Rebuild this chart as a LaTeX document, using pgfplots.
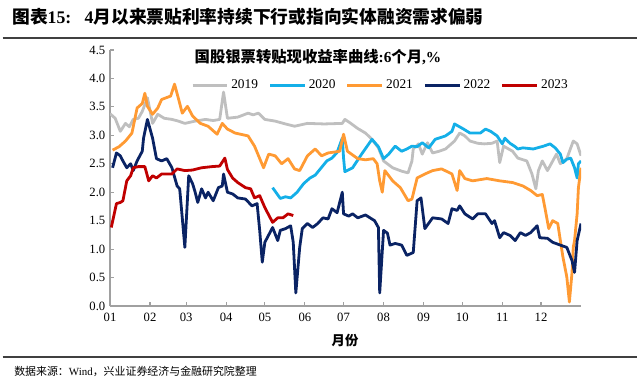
\documentclass[border=0pt]{standalone}
\usepackage{fontspec}
\setmainfont{Liberation Serif}
\newfontfamily\cjk{Noto Sans CJK SC}
\usepackage{pgfplots}
\pgfplotsset{compat=1.18}
\definecolor{c19}{HTML}{BFBFBF}
\definecolor{c20}{HTML}{14AFE8}
\definecolor{c21}{HTML}{FF9A33}
\definecolor{c22}{HTML}{0A2364}
\definecolor{c23}{HTML}{C00000}
\definecolor{axgray}{HTML}{A0A0A0}
\begin{document}
\begin{tikzpicture}
\useasboundingbox (0,0) rectangle (480pt,287.25pt);
\begin{axis}[
  at={(82.5pt,57.75pt)}, anchor=south west,
  scale only axis, width=353.25pt, height=192pt,
  xmin=0, xmax=365, ymin=0, ymax=4.5,
  axis x line*=bottom, axis y line*=left,
  axis line style={axgray, line width=0.8pt},
  every tick/.style={axgray, line width=0.8pt},
  tick align=inside, major tick length=3pt,
  xtick={0,31,59,90,120,151,181,212,243,273,304,334},
  xticklabels={01,02,03,04,05,06,07,08,09,10,11,12},
  ytick={0,0.5,1,1.5,2,2.5,3,3.5,4,4.5},
  yticklabel style={/pgf/number format/.cd, fixed, fixed zerofill, precision=1},
  /pgf/number format/assume math mode=true,
  tick label style={font=\fontsize{9.5pt}{11pt}\selectfont},
  xticklabel style={yshift=-2pt},
  legend style={at={(0.575,0.862)}, anchor=center, draw=none, fill=none,
    legend columns=5, font=\fontsize{10pt}{12pt}\selectfont,
    /tikz/every even column/.append style={column sep=6pt},
    inner sep=0pt, outer sep=0pt},
  legend image code/.code={\draw[#1] (0pt,0pt) -- (26pt,0pt);},
  every axis plot/.append style={line width=2.1pt, line join=round},
]
\addplot[c19] coordinates {(0,3.38) (4,3.3) (8,3.07) (12,3.21) (15,3.15) (18,3.28) (22,3.3) (25,3.42) (29,3.66) (33,3.21) (37,3.37) (42,3.3) (48,3.28) (53,3.25) (58,3.21) (66,3.25) (74,3.28) (80,3.26) (85,3.28) (88,3.76) (91,3.3) (99,3.32) (107,3.39) (111,3.36) (115,3.39) (120,3.28) (128,3.25) (136,3.2) (143,3.16) (153,3.21) (166,3.2) (180,3.21) (182,3.28) (186,3.22) (192,3.12) (198,3.04) (203,2.93) (208,2.78) (212,2.55) (219,2.43) (226,2.37) (231,2.34) (234,2.55) (235,2.76) (239,2.85) (242,2.67) (246,2.87) (250,2.69) (255,2.72) (260,2.76) (267,2.9) (271,3.04) (275,2.99) (279,2.9) (285,2.86) (290,2.85) (296,2.86) (300,2.9) (302,2.52) (305,2.81) (312,2.72) (316,2.6) (323,2.55) (327,2.32) (330,2.06) (332,2.38) (335,2.55) (339,2.38) (346,2.67) (349,2.5) (354,2.59) (359,2.9) (362,2.85) (365,2.64)};
\addlegendentry{2019}
\addplot[c20] coordinates {(126,2.08) (132,1.89) (136,1.92) (140,1.9) (145,2.0) (150,2.15) (155,2.25) (159,2.3) (163,2.41) (168,2.55) (172,2.6) (176,2.7) (180,2.95) (181,2.6) (182,2.36) (188,2.43) (195,2.67) (203,2.93) (208,2.8) (212,2.59) (216,2.67) (221,2.81) (226,2.72) (230,2.76) (234,2.81) (238,2.8) (242,2.87) (247,2.78) (252,2.93) (260,2.99) (265,3.07) (267,3.2) (274,3.11) (279,3.04) (287,3.04) (291,3.11) (295,3.07) (300,2.99) (304,2.85) (306,2.95) (310,2.86) (314,2.8) (316,2.76) (320,2.78) (328,2.76) (336,2.81) (341,2.85) (345,2.78) (349,2.67) (351,2.52) (354,2.58) (357,2.6) (360,2.43) (362,2.25) (363,2.5) (365,2.55)};
\addlegendentry{2020}
\addplot[c21] coordinates {(2,2.74) (7,2.8) (12,2.9) (17,3.04) (21,3.48) (25,3.56) (27,3.74) (29,3.51) (33,3.37) (37,3.48) (40,3.63) (47,3.69) (50,3.9) (53,3.65) (56,3.39) (60,3.51) (64,3.34) (70,3.21) (76,3.16) (83,3.02) (87,3.21) (91,3.11) (97,3.04) (107,2.99) (112,2.81) (119,2.43) (123,2.67) (128,2.64) (133,2.5) (138,2.59) (143,2.41) (147,2.38) (153,2.64) (159,2.76) (164,2.64) (169,2.69) (178,2.72) (181,3.02) (184,2.72) (192,2.59) (198,2.57) (204,2.59) (207,2.5) (209,2.2) (211,2.0) (213,2.38) (219,2.2) (225,2.08) (231,1.85) (234,1.88) (238,2.25) (244,2.32) (250,2.38) (257,2.41) (265,2.32) (269,2.03) (271,2.38) (275,2.24) (281,2.2) (292,2.24) (302,2.2) (312,2.17) (320,2.11) (326,2.03) (331,1.94) (335,1.96) (337,1.73) (340,1.36) (343,1.5) (347,1.45) (349,1.15) (351,0.86) (354,0.51) (356,0.07) (358,0.58) (359,1.03) (360,1.15) (362,1.62) (363,2.08) (365,2.43)};
\addlegendentry{2021}
\addplot[c22] coordinates {(2,2.43) (5,2.69) (8,2.64) (10,2.55) (13,2.43) (16,2.5) (18,2.38) (21,2.55) (25,2.72) (26,2.95) (29,3.28) (33,2.95) (36,2.59) (40,2.55) (44,2.59) (48,2.43) (52,2.11) (54,2.06) (56,1.55) (58,1.03) (61,2.29) (64,2.15) (66,2.0) (68,1.82) (71,2.06) (74,1.9) (76,2.0) (80,1.85) (84,2.08) (87,2.11) (88,2.32) (91,2.0) (95,1.97) (99,1.9) (105,1.88) (110,1.76) (114,1.8) (116,1.33) (118,0.77) (120,1.12) (126,1.38) (130,1.15) (132,1.33) (136,1.36) (140,1.41) (142,1.12) (144,0.23) (147,1.03) (149,1.36) (153,1.45) (157,1.38) (161,1.45) (165,1.55) (169,1.53) (172,1.71) (176,1.64) (180,2.0) (181,1.62) (185,1.58) (188,1.62) (192,1.55) (198,1.6) (205,1.5) (208,1.38) (209,0.23) (212,1.33) (215,1.28) (217,1.07) (221,1.1) (226,1.07) (230,0.89) (235,0.94) (238,1.85) (241,1.9) (244,1.36) (250,1.55) (257,1.53) (262,1.45) (265,1.71) (269,1.68) (271,1.76) (275,1.62) (281,1.53) (285,1.62) (291,1.62) (296,1.45) (298,1.5) (302,1.2) (305,1.29) (310,1.24) (314,1.15) (318,1.29) (322,1.24) (326,1.29) (331,1.41) (333,1.2) (339,1.19) (343,1.12) (349,1.07) (354,1.03) (358,0.8) (360,0.59) (362,1.15) (365,1.45)};
\addlegendentry{2022}
\addplot[c23] coordinates {(1,1.38) (5,1.8) (8,1.82) (10,1.85) (13,2.2) (16,2.29) (18,2.43) (22,2.45) (27,2.45) (30,2.2) (33,2.29) (36,2.25) (40,2.32) (48,2.32) (52,2.41) (58,2.38) (64,2.39) (71,2.43) (79,2.45) (85,2.46) (89,2.6) (91,2.4) (95,2.25) (99,2.17) (105,2.08) (109,2.06) (112,1.9) (116,1.94) (120,1.73) (126,1.47) (130,1.55) (134,1.55) (138,1.62) (142,1.59)};
\addlegendentry{2023}
\end{axis}
\node[anchor=center, font=\fontsize{11.5pt}{13pt}\selectfont\bfseries] at (238.5pt,244.5pt) {{\cjk 国股银票转贴现收益率曲线}:6{\cjk 个月},\%};
\node[anchor=center, font=\fontsize{10pt}{12pt}\selectfont\bfseries] at (258.75pt,32.25pt) {\cjk 月份};
\draw[line width=1.1pt, black!75] (2pt,258.75pt) -- (478pt,258.75pt);
\draw[line width=1.1pt, black!75] (2pt,19.5pt) -- (478pt,19.5pt);
\node[anchor=west, inner sep=0pt, font=\fontsize{13.3pt}{15pt}\selectfont\bfseries] at (9pt,274.5pt) {{\cjk 图表}15:\ \ \ 4{\cjk 月以来票贴利率持续下行或指向实体融资需求偏弱}};
\node[anchor=west, inner sep=0pt, font=\fontsize{8.2pt}{10pt}\selectfont] at (10.5pt,9pt) {{\cjk 数据来源：}Wind{\cjk ，兴业证券经济与金融研究院整理}};
\end{tikzpicture}
\end{document}
